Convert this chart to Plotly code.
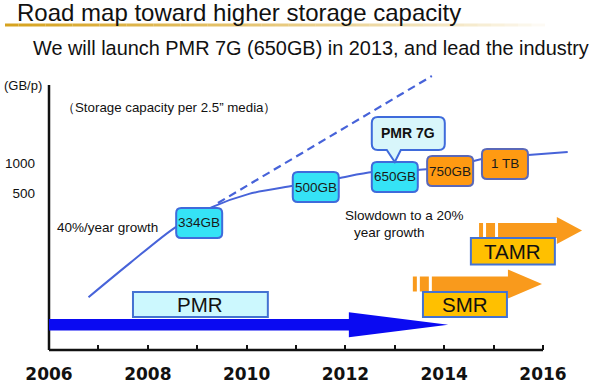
import numpy as np
import plotly.graph_objects as go

# ---------------- data ----------------
trend_years = [2006.8, 2007.65, 2008.55, 2009.3, 2010.05, 2010.95, 2011.85,
               2012.55, 2013.45, 2014.1, 2014.8, 2015.7, 2016.5]
trend_gb = [45, 100, 225, 360, 490, 590, 705, 810, 850, 910, 1100, 1200, 1290]

fast_years = [2009.42, 2013.75]
fast_gb = [397, 7460]

product_labels = ["334GB", "500GB", "650GB", "750GB", "1 TB"]
product_years = [2009.04, 2011.40, 2013.00, 2014.12, 2015.23]
product_gb = [250, 574, 724, 831, 977]
product_kind = ["now", "now", "now", "next", "next"]
callout_text = "PMR 7G"
callout_index = 2

tech_names = ["PMR", "SMR", "TAMR"]
tech_body_start = [2006.0, 2013.75, 2015.09]
tech_head_start = [2012.07, 2015.29, 2016.28]
tech_tip = [2014.08, 2015.98, 2016.79]
tech_lead_in = [False, True, True]
tech_label_from = [2007.70, 2013.57, 2014.54]
tech_label_to = [2010.43, 2015.27, 2016.24]

year_ticks = list(range(2006, 2017))
year_labels = [str(y) if y % 2 == 0 else "" for y in year_ticks]
gb_ticks = [500, 1000]
gb_labels = ["500", "1000"]

# ---------------- layout helpers ----------------
W, H = 600, 383
ML, MR, MT, MB = 49, 10, 70, 33
PW, PH = W - ML - MR, H - MT - MB


def py(p):
    return (H - MB - p) / PH


def px(p):
    return (p - ML) / PW


FONT = "Liberation Sans, Arial, sans-serif"
TXT = "#111111"

fig = go.Figure()

fig.add_trace(go.Scatter(x=fast_years, y=fast_gb, mode="lines",
                         line=dict(color="#4763D9", width=2.2, dash="8px,5px"),
                         hoverinfo="skip", showlegend=False))
fig.add_trace(go.Scatter(x=trend_years, y=trend_gb, mode="lines",
                         line=dict(color="#4763D9", width=2, shape="spline", smoothing=0.8),
                         hoverinfo="skip", showlegend=False))

shapes = []
annotations = []

# axes lines
shapes.append(dict(type="line", xref="paper", yref="paper", x0=0, x1=0, y0=0, y1=py(85),
                   layer="above", line=dict(color="#111111", width=2.5)))
shapes.append(dict(type="line", xref="x", yref="paper", x0=2006, x1=2016, y0=0, y1=0,
                   layer="above", line=dict(color="#111111", width=2.5)))

# technology arrows
arrow_lane = [(324.75, 5.75, 12.5), (284.0, 7.5, 14.5), (230.5, 7.5, 13.5)]
arrow_col = ["#0A0AF2", "#F99A1C", "#F99A1C"]
label_lane = [(292, 317), (292, 317), (238, 264.5)]
label_fill = ["#CCF8FE", "#FFC000", "#FFC000"]

for i, name in enumerate(tech_names):
    c, bh, hh = arrow_lane[i]
    b0, h0, tp = tech_body_start[i], tech_head_start[i], tech_tip[i]
    path = (f"M{b0},{py(c - bh)} L{h0},{py(c - bh)} L{h0},{py(c - hh)} L{tp},{py(c)} "
            f"L{h0},{py(c + hh)} L{h0},{py(c + bh)} L{b0},{py(c + bh)} Z")
    shapes.append(dict(type="path", xref="x", yref="paper", path=path,
                       fillcolor=arrow_col[i], line=dict(width=0)))
    if tech_lead_in[i]:
        for d0, d1 in [(-19, -15), (-12, -3)]:
            shapes.append(dict(type="rect", xref="x", yref="paper", xsizemode="pixel",
                               xanchor=b0, x0=d0, x1=d1, y0=py(c - bh), y1=py(c + bh),
                               fillcolor=arrow_col[i], line=dict(width=0)))

for i, name in enumerate(tech_names):
    t, b = label_lane[i]
    shapes.append(dict(type="rect", xref="x", yref="paper",
                       x0=tech_label_from[i], x1=tech_label_to[i], y0=py(b), y1=py(t),
                       fillcolor=label_fill[i], line=dict(color="#4472D2", width=2)))
    annotations.append(dict(x=(tech_label_from[i] + tech_label_to[i]) / 2, y=py((t + b) / 2),
                            xref="x", yref="paper", text=name, showarrow=False,
                            font=dict(family=FONT, size=20.5, color=TXT),
                            xanchor="center", yanchor="middle"))


def rrect(x0, x1, y0, y1, r):
    return (f"M{x0 + r},{y0} L{x1 - r},{y0} Q{x1},{y0} {x1},{y0 + r} L{x1},{y1 - r} "
            f"Q{x1},{y1} {x1 - r},{y1} L{x0 + r},{y1} Q{x0},{y1} {x0},{y1 - r} "
            f"L{x0},{y0 + r} Q{x0},{y0} {x0 + r},{y0} Z")


# product boxes on the curve
for lab, yr, gb, kind in zip(product_labels, product_years, product_gb, product_kind):
    fill = "#35E3F6" if kind == "now" else "#FF9A12"
    edge = "#3F6BDB" if kind == "now" else "#5A68B8"
    shapes.append(dict(type="path", xref="x", yref="y", xsizemode="pixel", ysizemode="pixel",
                       xanchor=yr, yanchor=gb, path=rrect(-23, 23, -15, 15, 5),
                       fillcolor=fill, line=dict(color=edge, width=2)))
    annotations.append(dict(x=yr, y=np.log10(gb), xref="x", yref="y", text=lab,
                            showarrow=False, font=dict(family=FONT, size=13.5, color="#1A1A1A"),
                            xanchor="center", yanchor="middle"))

# callout
cx, cg = product_years[callout_index], product_gb[callout_index]
r = 6
bx0, bx1, by0, by1 = -23, 50, 27, 60
cpath = (f"M{bx0 + r},{by0} L-8,{by0} L0,15 L6,{by0} L{bx1 - r},{by0} "
         f"Q{bx1},{by0} {bx1},{by0 + r} L{bx1},{by1 - r} Q{bx1},{by1} {bx1 - r},{by1} "
         f"L{bx0 + r},{by1} Q{bx0},{by1} {bx0},{by1 - r} L{bx0},{by0 + r} "
         f"Q{bx0},{by0} {bx0 + r},{by0} Z")
shapes.append(dict(type="path", xref="x", yref="y", xsizemode="pixel", ysizemode="pixel",
                   xanchor=cx, yanchor=cg, path=cpath, fillcolor="#D8F6FB",
                   line=dict(color="#3F6BDB", width=2)))
annotations.append(dict(x=cx, y=np.log10(cg), xref="x", yref="y", text=f"<b>{callout_text}</b>",
                        showarrow=False, xshift=13, yshift=44,
                        font=dict(family=FONT, size=14, color=TXT),
                        xanchor="center", yanchor="middle"))

# title underline (fading gold)
nseg = 40
xs = np.linspace(5, 545, nseg + 1)
for k in range(nseg):
    t = k / nseg
    a = max(0.0, (1 - t)) ** 0.8
    shapes.append(dict(type="line", xref="paper", yref="paper", x0=px(xs[k]), x1=px(xs[k + 1]),
                       y0=py(25), y1=py(25), layer="above",
                       line=dict(color=f"rgba(214,163,32,{a:.3f})", width=3)))


def txt(x, y, s, size, anchor="left", color=TXT):
    annotations.append(dict(x=px(x), y=py(y), xref="paper", yref="paper", text=s,
                            showarrow=False, xanchor=anchor, yanchor="middle",
                            font=dict(family=FONT, size=size, color=color)))


txt(15, 12.6, "Road map toward higher storage capacity", 24)
txt(31, 48, "We will launch PMR 7G (650GB) in 2013, and lead the industry", 19.9)
txt(2, 85, "(GB/p)", 13)
txt(60, 107, "（Storage capacity per 2.5” media）", 13.3)
txt(55, 227, "40%/year growth", 13.5)
txt(343, 216, "Slowdown to a 20%", 13.5)
txt(352, 233, "year growth", 13.5)

fig.update_layout(
    width=W, height=H,
    margin=dict(l=ML, r=MR, t=MT, b=MB, pad=0, autoexpand=False),
    paper_bgcolor="white", plot_bgcolor="white",
    showlegend=False,
    shapes=shapes, annotations=annotations,
    xaxis=dict(range=[2006, 2006 + PW / 49.4], showgrid=False, zeroline=False, showline=False,
               automargin=False,
               tickvals=year_ticks, ticktext=year_labels, ticks="inside", ticklen=5,
               tickwidth=2, tickcolor="#111111", ticklabelstandoff=12,
               tickfont=dict(family="DejaVu Sans", size=17, color=TXT, weight="bold")),
    yaxis=dict(type="log", range=[1.1236, 3.933], showgrid=False, zeroline=False,
               automargin=False,
               showline=False, tickvals=gb_ticks, ticktext=gb_labels, ticks="",
               ticklabelstandoff=13,
               tickfont=dict(family=FONT, size=13.5, color=TXT)),
)

fig.write_html("out.html", config={"displayModeBar": False},
               post_script="document.body.style.margin='0';document.body.style.overflow='hidden';")
